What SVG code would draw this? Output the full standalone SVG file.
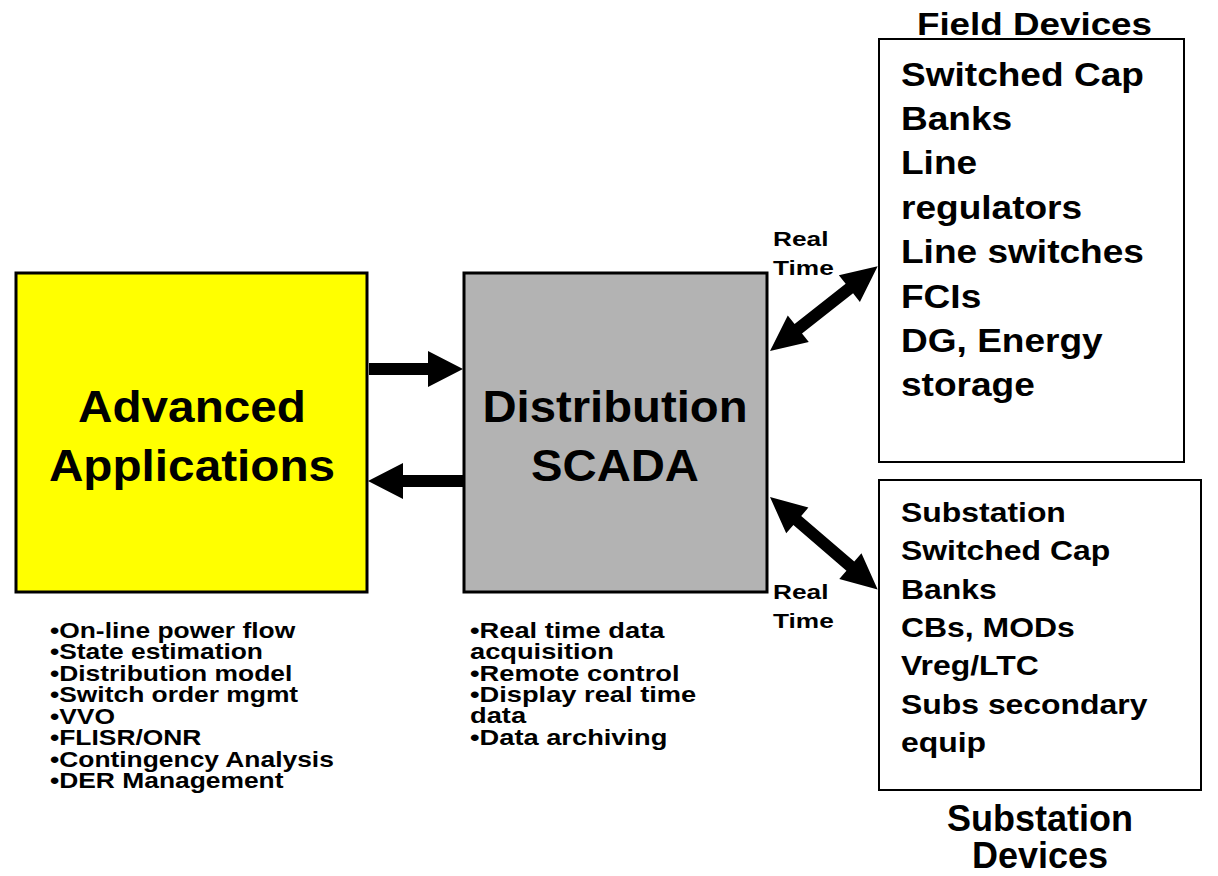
<svg xmlns="http://www.w3.org/2000/svg" width="1218" height="876" viewBox="0 0 1218 876">
<defs>
<style>
text{font-family:"Liberation Sans",Arial,sans-serif;font-weight:bold;fill:#000}
.big{font-size:45px;text-anchor:middle}
.fd{font-size:34px}
.sd{font-size:28px}
.ttl{font-size:32px;text-anchor:middle}
.ttl2{font-size:36px;text-anchor:middle}
.rt{font-size:21px}
.bl{font-size:22px}
.box{stroke:#000;stroke-width:2;fill:#fff}
</style>
</defs>
<rect width="1218" height="876" fill="#fff"/>
<g id="advanced-applications">
<rect x="16" y="273" width="351" height="319" fill="#ffff00" stroke="#000" stroke-width="3"/>
<g transform="matrix(1.06 0 0 1 -11.52 0)">
<text class="big" x="192" y="422">Advanced</text>
<text class="big" x="192" y="481">Applications</text>
</g>
<g transform="matrix(1.2 0 0 1 -10 0)">
<text class="bl" x="50" y="638">•On-line power flow</text>
<text class="bl" x="50" y="659">•State estimation</text>
<text class="bl" x="50" y="681">•Distribution model</text>
<text class="bl" x="50" y="702">•Switch order mgmt</text>
<text class="bl" x="50" y="724">•VVO</text>
<text class="bl" x="50" y="745">•FLISR/ONR</text>
<text class="bl" x="50" y="767">•Contingency Analysis</text>
<text class="bl" x="50" y="788">•DER Management</text>
</g>
</g>
<g id="distribution-scada">
<rect x="464" y="273" width="303" height="319" fill="#b3b3b3" stroke="#000" stroke-width="3"/>
<g transform="matrix(1.05 0 0 1 -30.75 0)">
<text class="big" x="615" y="422">Distribution</text>
<text class="big" x="615" y="481">SCADA</text>
</g>
<g transform="matrix(1.24 0 0 1 -112.8 0)">
<text class="bl" x="470" y="638">•Real time data</text>
<text class="bl" x="470" y="659">acquisition</text>
<text class="bl" x="470" y="681">•Remote control</text>
<text class="bl" x="470" y="702">•Display real time</text>
<text class="bl" x="470" y="723">data</text>
<text class="bl" x="470" y="745">•Data archiving</text>
</g>
</g>
<g id="field-devices">
<text class="ttl" x="1034.5" y="35" transform="matrix(1.15 0 0 1 -155.2 0)">Field Devices</text>
<rect class="box" x="879" y="39" width="305" height="423"/>
<g transform="matrix(1.09 0 0 1 -81.09 0)">
<text class="fd" x="901" y="86">Switched Cap</text>
<text class="fd" x="901" y="130">Banks</text>
<text class="fd" x="901" y="174">Line</text>
<text class="fd" x="901" y="219">regulators</text>
<text class="fd" x="901" y="263">Line switches</text>
<text class="fd" x="901" y="308">FCIs</text>
<text class="fd" x="901" y="352">DG, Energy</text>
<text class="fd" x="901" y="396">storage</text>
</g>
</g>
<g id="substation-devices">
<rect class="box" x="879" y="480" width="322" height="310"/>
<g transform="matrix(1.14 0 0 1 -126.14 0)">
<text class="sd" x="901" y="522">Substation</text>
<text class="sd" x="901" y="560">Switched Cap</text>
<text class="sd" x="901" y="599">Banks</text>
<text class="sd" x="901" y="637">CBs, MODs</text>
<text class="sd" x="901" y="675">Vreg/LTC</text>
<text class="sd" x="901" y="714">Subs secondary</text>
<text class="sd" x="901" y="752">equip</text>
</g>
<text class="ttl2" x="1040" y="831">Substation</text>
<text class="ttl2" x="1040" y="868">Devices</text>
</g>
<g id="connectors" fill="#000">
<polygon points="369,363 428,363 428,351 463,369 428,387 428,375 369,375"/>
<polygon points="463,475 403,475 403,463 368,481 403,499 403,487 463,487"/>
<g transform="translate(770,351) rotate(-38.2)">
<polygon points="0,0 36,-17 36,-6 101,-6 101,-17 137,0 101,17 101,6 36,6 36,17"/>
</g>
<g transform="translate(770,497) rotate(40.7)">
<polygon points="0,0 36,-17 36,-6 106,-6 106,-17 142,0 106,17 106,6 36,6 36,17"/>
</g>
<g transform="matrix(1.25 0 0 1 -193.25 0)">
<text class="rt" x="773" y="246">Real</text>
<text class="rt" x="773" y="275">Time</text>
<text class="rt" x="773" y="599">Real</text>
<text class="rt" x="773" y="628">Time</text>
</g>
</g>
</svg>
